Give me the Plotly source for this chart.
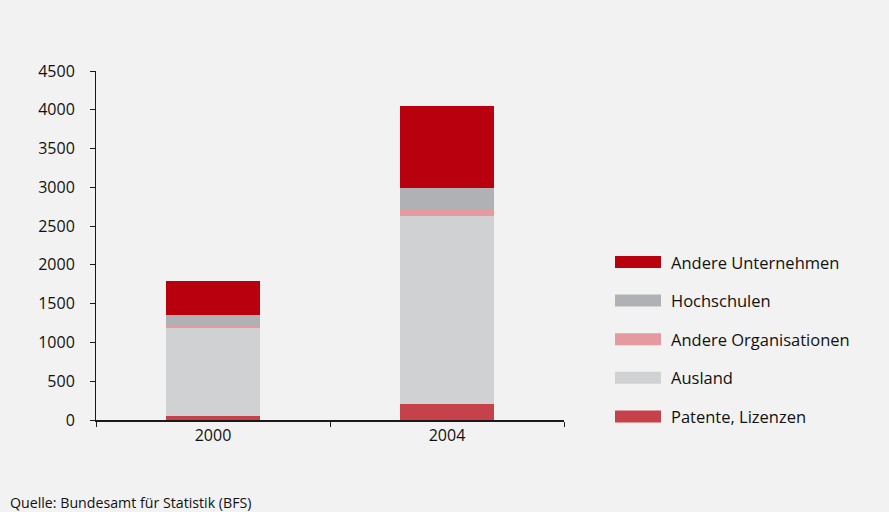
import plotly.graph_objects as go

years = ["2000", "2004"]
series_names = ["Patente, Lizenzen", "Ausland", "Andere Organisationen", "Hochschulen", "Andere Unternehmen"]
patente = [52, 206]
ausland = [1134, 2424]
andere_org = [35, 86]
hochschulen = [133, 275]
andere_unt = [438, 1057]
colors = ["#c7414b", "#d0d1d3", "#e49a9f", "#b0b1b4", "#b8000f"]
y_ticks = [0, 500, 1000, 1500, 2000, 2500, 3000, 3500, 4000, 4500]

values = [patente, ausland, andere_org, hochschulen, andere_unt]

W, H = 889, 512
L, R, T, B = 96, 564, 71, 420
FONT = "Open Sans"
TXT = "#111111"

fig = go.Figure()
for name, vals, col in zip(series_names, values, colors):
    fig.add_trace(go.Bar(x=years, y=vals, name=name, marker=dict(color=col, line=dict(width=0)),
                         showlegend=False))

def px_x(p):
    return (p - L) / (R - L)

def px_y(p):
    return (B - p) / (B - T)

shapes = []
annotations = []
row_y = [262, 300.6, 339.2, 377.8, 416.4]
for i, (name, col) in enumerate(zip(reversed(series_names), reversed(colors))):
    cy = row_y[i]
    shapes.append(dict(type="rect", xref="paper", yref="paper",
                       x0=px_x(615), x1=px_x(661), y0=px_y(cy + 6), y1=px_y(cy - 6),
                       fillcolor=col, line=dict(width=0)))
    annotations.append(dict(text=name, xref="paper", yref="paper", x=px_x(669), y=px_y(cy),
                            xanchor="left", yanchor="middle", showarrow=False,
                            font=dict(family=FONT, size=16.5, color=TXT)))

annotations.append(dict(text="Quelle: Bundesamt für Statistik (BFS)", xref="paper", yref="paper",
                        x=px_x(8), y=px_y(502), xanchor="left", yanchor="middle", showarrow=False,
                        font=dict(family=FONT, size=14.2, color=TXT)))

fig.update_layout(
    width=W, height=H,
    margin=dict(l=L, r=W - R, t=T, b=H - B, pad=0),
    paper_bgcolor="#f2f2f2", plot_bgcolor="#f2f2f2",
    barmode="stack", bargap=0.6,
    font=dict(family=FONT, size=16, color=TXT),
    shapes=shapes, annotations=annotations,
    xaxis=dict(showline=True, linecolor="#1a1a1a", linewidth=1.5, ticks="outside", tickson="boundaries",
               ticklen=5, tickcolor="#1a1a1a", showgrid=False, zeroline=False,
               tickfont=dict(family=FONT, size=16, color=TXT)),
    yaxis=dict(range=[0, 4500], tickvals=y_ticks, showline=True, linecolor="#1a1a1a", linewidth=1,
               ticks="outside", ticklen=5, tickcolor="#1a1a1a", showgrid=False, zeroline=False,
               ticklabelstandoff=12,
               tickfont=dict(family=FONT, size=16, color=TXT)),
)

fig.write_html("out.html", config={"displayModeBar": False},
               post_script="document.body.style.margin='0';document.body.style.background='#f2f2f2';")
